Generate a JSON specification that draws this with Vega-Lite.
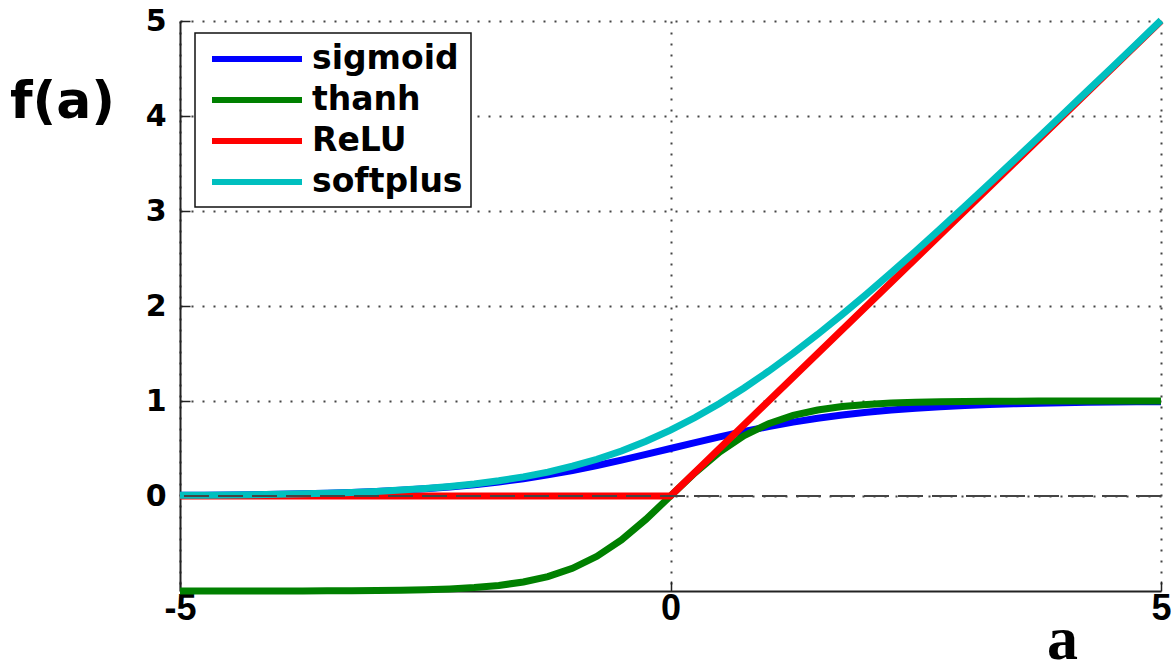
{
  "$schema": "https://vega.github.io/schema/vega-lite/v6.json",
  "autosize": "none",
  "width": 981,
  "height": 570,
  "padding": {"left": 180, "top": 21, "right": 10, "bottom": 80},
  "background": "white",
  "config": {
    "view": {"stroke": null},
    "axis": {
      "domainColor": "#222",
      "domainWidth": 2,
      "tickColor": "#222",
      "tickWidth": 1.5,
      "tickSize": -10,
      "gridColor": "#444",
      "gridDash": [2, 9],
      "gridWidth": 2,
      "labelColor": "black",
      "titleColor": "black"
    }
  },
  "datasets": {
    "curves": [
      {"a": -5, "f": 0.0067, "fn": "sigmoid"},
      {"a": -4.75, "f": 0.0086, "fn": "sigmoid"},
      {"a": -4.5, "f": 0.011, "fn": "sigmoid"},
      {"a": -4.25, "f": 0.0141, "fn": "sigmoid"},
      {"a": -4, "f": 0.018, "fn": "sigmoid"},
      {"a": -3.75, "f": 0.023, "fn": "sigmoid"},
      {"a": -3.5, "f": 0.0293, "fn": "sigmoid"},
      {"a": -3.25, "f": 0.0373, "fn": "sigmoid"},
      {"a": -3, "f": 0.0474, "fn": "sigmoid"},
      {"a": -2.75, "f": 0.0601, "fn": "sigmoid"},
      {"a": -2.5, "f": 0.0759, "fn": "sigmoid"},
      {"a": -2.25, "f": 0.0953, "fn": "sigmoid"},
      {"a": -2, "f": 0.1192, "fn": "sigmoid"},
      {"a": -1.75, "f": 0.148, "fn": "sigmoid"},
      {"a": -1.5, "f": 0.1824, "fn": "sigmoid"},
      {"a": -1.25, "f": 0.2227, "fn": "sigmoid"},
      {"a": -1, "f": 0.2689, "fn": "sigmoid"},
      {"a": -0.75, "f": 0.3208, "fn": "sigmoid"},
      {"a": -0.5, "f": 0.3775, "fn": "sigmoid"},
      {"a": -0.25, "f": 0.4378, "fn": "sigmoid"},
      {"a": 0, "f": 0.5, "fn": "sigmoid"},
      {"a": 0.25, "f": 0.5622, "fn": "sigmoid"},
      {"a": 0.5, "f": 0.6225, "fn": "sigmoid"},
      {"a": 0.75, "f": 0.6792, "fn": "sigmoid"},
      {"a": 1, "f": 0.7311, "fn": "sigmoid"},
      {"a": 1.25, "f": 0.7773, "fn": "sigmoid"},
      {"a": 1.5, "f": 0.8176, "fn": "sigmoid"},
      {"a": 1.75, "f": 0.852, "fn": "sigmoid"},
      {"a": 2, "f": 0.8808, "fn": "sigmoid"},
      {"a": 2.25, "f": 0.9047, "fn": "sigmoid"},
      {"a": 2.5, "f": 0.9241, "fn": "sigmoid"},
      {"a": 2.75, "f": 0.9399, "fn": "sigmoid"},
      {"a": 3, "f": 0.9526, "fn": "sigmoid"},
      {"a": 3.25, "f": 0.9627, "fn": "sigmoid"},
      {"a": 3.5, "f": 0.9707, "fn": "sigmoid"},
      {"a": 3.75, "f": 0.977, "fn": "sigmoid"},
      {"a": 4, "f": 0.982, "fn": "sigmoid"},
      {"a": 4.25, "f": 0.9859, "fn": "sigmoid"},
      {"a": 4.5, "f": 0.989, "fn": "sigmoid"},
      {"a": 4.75, "f": 0.9914, "fn": "sigmoid"},
      {"a": 5, "f": 0.9933, "fn": "sigmoid"},
      {"a": -5, "f": -0.9999, "fn": "thanh"},
      {"a": -4.75, "f": -0.9999, "fn": "thanh"},
      {"a": -4.5, "f": -0.9998, "fn": "thanh"},
      {"a": -4.25, "f": -0.9996, "fn": "thanh"},
      {"a": -4, "f": -0.9993, "fn": "thanh"},
      {"a": -3.75, "f": -0.9989, "fn": "thanh"},
      {"a": -3.5, "f": -0.9982, "fn": "thanh"},
      {"a": -3.25, "f": -0.997, "fn": "thanh"},
      {"a": -3, "f": -0.9951, "fn": "thanh"},
      {"a": -2.75, "f": -0.9919, "fn": "thanh"},
      {"a": -2.5, "f": -0.9866, "fn": "thanh"},
      {"a": -2.25, "f": -0.978, "fn": "thanh"},
      {"a": -2, "f": -0.964, "fn": "thanh"},
      {"a": -1.75, "f": -0.9414, "fn": "thanh"},
      {"a": -1.5, "f": -0.9051, "fn": "thanh"},
      {"a": -1.25, "f": -0.8483, "fn": "thanh"},
      {"a": -1, "f": -0.7616, "fn": "thanh"},
      {"a": -0.75, "f": -0.6351, "fn": "thanh"},
      {"a": -0.5, "f": -0.4621, "fn": "thanh"},
      {"a": -0.25, "f": -0.2449, "fn": "thanh"},
      {"a": 0, "f": 0, "fn": "thanh"},
      {"a": 0.25, "f": 0.2449, "fn": "thanh"},
      {"a": 0.5, "f": 0.4621, "fn": "thanh"},
      {"a": 0.75, "f": 0.6351, "fn": "thanh"},
      {"a": 1, "f": 0.7616, "fn": "thanh"},
      {"a": 1.25, "f": 0.8483, "fn": "thanh"},
      {"a": 1.5, "f": 0.9051, "fn": "thanh"},
      {"a": 1.75, "f": 0.9414, "fn": "thanh"},
      {"a": 2, "f": 0.964, "fn": "thanh"},
      {"a": 2.25, "f": 0.978, "fn": "thanh"},
      {"a": 2.5, "f": 0.9866, "fn": "thanh"},
      {"a": 2.75, "f": 0.9919, "fn": "thanh"},
      {"a": 3, "f": 0.9951, "fn": "thanh"},
      {"a": 3.25, "f": 0.997, "fn": "thanh"},
      {"a": 3.5, "f": 0.9982, "fn": "thanh"},
      {"a": 3.75, "f": 0.9989, "fn": "thanh"},
      {"a": 4, "f": 0.9993, "fn": "thanh"},
      {"a": 4.25, "f": 0.9996, "fn": "thanh"},
      {"a": 4.5, "f": 0.9998, "fn": "thanh"},
      {"a": 4.75, "f": 0.9999, "fn": "thanh"},
      {"a": 5, "f": 0.9999, "fn": "thanh"},
      {"a": -5, "f": 0, "fn": "ReLU"},
      {"a": 0, "f": 0, "fn": "ReLU"},
      {"a": 5, "f": 5, "fn": "ReLU"},
      {"a": -5, "f": 0.0067, "fn": "softplus"},
      {"a": -4.75, "f": 0.0086, "fn": "softplus"},
      {"a": -4.5, "f": 0.011, "fn": "softplus"},
      {"a": -4.25, "f": 0.0142, "fn": "softplus"},
      {"a": -4, "f": 0.0181, "fn": "softplus"},
      {"a": -3.75, "f": 0.0232, "fn": "softplus"},
      {"a": -3.5, "f": 0.0298, "fn": "softplus"},
      {"a": -3.25, "f": 0.038, "fn": "softplus"},
      {"a": -3, "f": 0.0486, "fn": "softplus"},
      {"a": -2.75, "f": 0.0619, "fn": "softplus"},
      {"a": -2.5, "f": 0.0789, "fn": "softplus"},
      {"a": -2.25, "f": 0.1002, "fn": "softplus"},
      {"a": -2, "f": 0.1269, "fn": "softplus"},
      {"a": -1.75, "f": 0.1602, "fn": "softplus"},
      {"a": -1.5, "f": 0.2014, "fn": "softplus"},
      {"a": -1.25, "f": 0.2519, "fn": "softplus"},
      {"a": -1, "f": 0.3133, "fn": "softplus"},
      {"a": -0.75, "f": 0.3869, "fn": "softplus"},
      {"a": -0.5, "f": 0.4741, "fn": "softplus"},
      {"a": -0.25, "f": 0.5759, "fn": "softplus"},
      {"a": 0, "f": 0.6931, "fn": "softplus"},
      {"a": 0.25, "f": 0.8259, "fn": "softplus"},
      {"a": 0.5, "f": 0.9741, "fn": "softplus"},
      {"a": 0.75, "f": 1.1369, "fn": "softplus"},
      {"a": 1, "f": 1.3133, "fn": "softplus"},
      {"a": 1.25, "f": 1.5019, "fn": "softplus"},
      {"a": 1.5, "f": 1.7014, "fn": "softplus"},
      {"a": 1.75, "f": 1.9102, "fn": "softplus"},
      {"a": 2, "f": 2.1269, "fn": "softplus"},
      {"a": 2.25, "f": 2.3502, "fn": "softplus"},
      {"a": 2.5, "f": 2.5789, "fn": "softplus"},
      {"a": 2.75, "f": 2.8119, "fn": "softplus"},
      {"a": 3, "f": 3.0486, "fn": "softplus"},
      {"a": 3.25, "f": 3.288, "fn": "softplus"},
      {"a": 3.5, "f": 3.5298, "fn": "softplus"},
      {"a": 3.75, "f": 3.7732, "fn": "softplus"},
      {"a": 4, "f": 4.0181, "fn": "softplus"},
      {"a": 4.25, "f": 4.2642, "fn": "softplus"},
      {"a": 4.5, "f": 4.511, "fn": "softplus"},
      {"a": 4.75, "f": 4.7586, "fn": "softplus"},
      {"a": 5, "f": 5.0067, "fn": "softplus"}
    ],
    "zero": [{"f": 0}]
  },
  "layer": [
    {
      "data": {"name": "curves"},
      "mark": {"type": "line", "strokeWidth": 7, "clip": false},
      "encoding": {
        "x": {
          "field": "a",
          "type": "quantitative",
          "scale": {"domain": [-5, 5], "nice": false},
          "axis": {
            "values": [-5, 0, 5],
            "labelExpr": "'' + datum.value",
            "grid": true,
            "title": "a",
            "titleFont": "Liberation Sans Narrow",
            "titleFontWeight": "bold",
            "titleFontSize": 62,
            "titleAngle": 0,
            "titleAlign": "center",
            "titleBaseline": "alphabetic",
            "titleX": 882,
            "titleY": 67,
            "labelFont": "Liberation Sans",
            "labelFontWeight": "bold",
            "labelFontSize": 36,
            "labelPadding": 10,
            "labelFlush": false,
            "labelOverlap": false
          }
        },
        "y": {
          "field": "f",
          "type": "quantitative",
          "scale": {"domain": [-1, 5], "nice": false, "zero": false},
          "axis": {
            "values": [0, 1, 2, 3, 4, 5],
            "labelExpr": "'' + datum.value",
            "grid": true,
            "title": "f(a)",
            "titleFont": "DejaVu Sans",
            "titleFontWeight": "bold",
            "titleFontSize": 52,
            "titleAngle": 0,
            "titleAlign": "center",
            "titleBaseline": "middle",
            "titleX": -118,
            "titleY": 80,
            "labelFont": "DejaVu Sans",
            "labelFontWeight": "bold",
            "labelFontSize": 30,
            "labelPadding": 24,
            "labelFlush": false,
            "labelOverlap": false
          }
        },
        "color": {
          "field": "fn",
          "type": "nominal",
          "sort": ["sigmoid", "thanh", "ReLU", "softplus"],
          "scale": {
            "domain": ["sigmoid", "thanh", "ReLU", "softplus"],
            "range": ["#0000FF", "#008000", "#FF0000", "#00BFBF"]
          },
          "legend": {
            "title": null,
            "orient": "none",
            "legendX": 15,
            "legendY": 12,
            "padding": 8,
            "fillColor": "white",
            "cornerRadius": 0,
            "symbolType": "M-3,0H3",
            "symbolSize": 900,
            "symbolStrokeWidth": 6,
            "symbolOffset": 36,
            "labelOffset": 37,
            "rowPadding": 6,
            "labelFont": "DejaVu Sans",
            "labelFontWeight": "bold",
            "labelFontSize": 33,
            "labelColor": "black",
            "labelLimit": 400,
            "encode": {
              "legend": {
                "update": {
                  "stroke": {"value": "#111"},
                  "strokeWidth": {"value": 1.5}
                }
              }
            }
          }
        }
      }
    },
    {
      "data": {"name": "zero"},
      "mark": {"type": "rule", "color": "#444", "strokeWidth": 2, "strokeDash": [25, 9]},
      "encoding": {
        "y": {"field": "f", "type": "quantitative"}
      }
    }
  ]
}
